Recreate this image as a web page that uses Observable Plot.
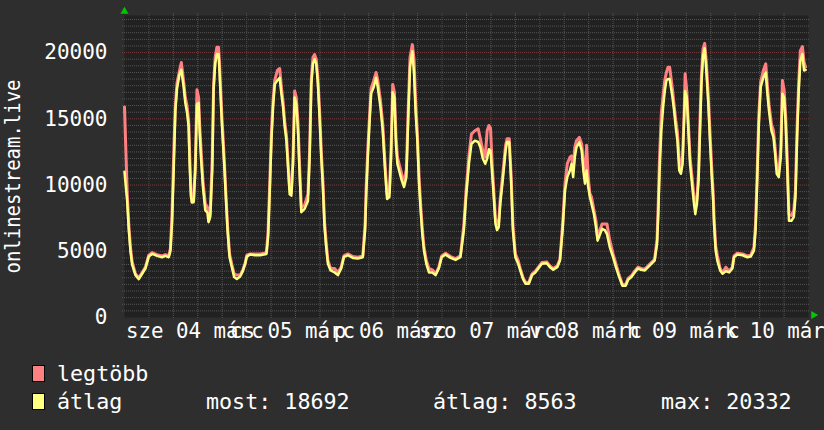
<!DOCTYPE html>
<html><head><meta charset="utf-8">
<script src="https://cdn.jsdelivr.net/npm/d3@7"></script>
<script src="https://cdn.jsdelivr.net/npm/@observablehq/plot@0.6"></script>
<style>
html,body{margin:0;padding:0;background:#2e2e2e;overflow:hidden;}
#wrap{position:relative;width:824px;height:430px;overflow:hidden;}
#wrap svg{position:absolute;left:0;top:0;overflow:visible;}
.lg{position:absolute;font-family:"DejaVu Sans Mono",monospace;font-size:21.7px;line-height:21.7px;color:#fff;white-space:pre;}
.sw{position:absolute;width:11px;height:15px;border:1px solid #000;}
</style></head><body><div id="wrap"></div>
<script>
// ---- data (hours since 3 March 18:00) ----
const hours = [0,0.65,1.06,1.47,1.88,2.69,3.51,4.33,5.14,5.96,6.78,8.0,9.22,10.04,10.86,11.27,11.67,12.08,12.49,12.9,13.55,13.96,14.53,14.94,15.35,15.76,16.0,16.33,16.57,16.98,17.39,17.8,18.2,18.45,18.78,19.27,19.84,20.41,20.65,21.06,21.31,21.55,21.88,22.29,22.69,23.1,23.35,23.92,24.49,24.98,25.31,25.8,26.37,26.94,27.59,28.41,29.06,29.63,30.04,30.86,32.08,33.3,
34.86,35.27,35.68,36.09,36.49,36.9,37.55,38.12,38.53,38.94,39.35,39.76,40.16,40.57,40.98,41.39,41.8,42.2,42.61,43.02,43.43,44.24,45.06,45.47,45.88,46.29,46.69,47.1,47.51,47.92,48.33,48.73,49.14,49.55,49.96,50.62,51.6,52.41,53.23,53.88,54.86,56.08,57.31,58.53,59.1,59.35,59.76,60.16,60.57,61.22,61.8,62.2,62.86,63.43,64.0,64.49,65.06,65.47,65.88,66.29,66.69,
67.03,67.44,68.09,68.66,69.23,69.72,70.13,70.7,71.11,71.52,71.93,72.34,72.74,73.15,73.56,74.13,74.78,75.6,76.4,77.2,77.9,78.86,80.1,81.3,82.5,83.35,83.9,84.6,85.2,86.05,86.87,87.4,88.0,88.6,89.07,89.5,89.9,90.3,90.7,91.1,91.5,91.9,92.3,92.9,93.6,93.97,94.5,94.95,95.4,96.0,96.7,97.2,97.9,98.5,99.3,100.1,100.9,
102.5,103.7,104.5,105.3,106.3,106.95,107.6,108.2,108.75,109.4,109.8,110.2,110.6,111.0,111.7,112.3,112.7,113.1,113.5,113.9,114.3,114.7,115.3,115.8,116.2,116.7,117.3,117.97,118.5,119.2,120.0,120.7,121.5,122.3,123.1,123.7,124.5,125.3,126.1,126.9,127.8,128.6,129.4,130.2,130.8,131.1,131.4,131.85,132.3,132.7,133.1,133.5,133.9,
134.6,135.0,135.4,135.8,136.25,136.66,137.07,137.5,137.7,138.1,138.5,138.9,139.3,139.8,140.2,140.6,141.0,141.4,141.7,142.1,142.5,142.9,143.4,143.8,144.2,144.6,144.8,145.2,145.6,146.3,146.9,147.7,148.5,149.3,149.7,150.5,151.8,153.0,153.8,154.6,155.0,155.4,155.8,156.25,156.9,157.5,157.9,158.3,158.9,159.4,159.8,160.2,160.7,161.2,161.6,162.0,162.4,162.8,163.2,163.8,164.4,164.8,165.2,165.6,166.0,166.5,166.9,167.3];
const maxValues = [15900,9500,7000,5300,4200,3300,3000,3400,3800,4700,4900,4750,4650,4750,4650,5200,7800,12300,16000,17700,18700,19250,17800,16600,16000,14800,12400,9500,8700,8800,11500,17200,16600,14600,12800,10300,8600,8300,7300,7900,10000,12000,17600,19700,20400,20400,19100,15200,12000,8900,6900,4800,4000,3300,3200,3200,3600,4100,4700,4800,4800,4800,
4900,6500,10200,14000,16400,17900,18650,18800,17400,16300,14800,13800,11800,9700,9400,12100,17100,16600,14700,11400,8300,8500,9300,12600,18000,19650,19850,19500,18000,15600,12600,10300,7200,5600,4300,3700,3700,3400,3800,4650,4800,4600,4550,4650,7100,9800,12700,15100,17300,17900,18500,17900,16400,14600,11600,9300,9400,12700,17600,17000,13600,
12100,11600,10800,10100,11200,16000,19650,20600,19500,16200,13900,10700,8500,6700,5300,4300,3700,3600,3300,3800,4650,4850,4600,4450,4650,7000,9600,12200,13850,14100,14250,13500,12600,12100,14100,14500,14300,11600,9600,7500,7100,7100,9000,10800,13000,13500,13500,10800,7000,4800,4300,3700,3000,2650,2650,3300,3500,
4150,4200,3900,3700,3900,4400,7000,10100,11600,12100,12200,11100,12850,13350,13600,13100,11600,10600,13000,10600,9350,9100,8100,7300,6000,6550,7050,7050,7050,5800,4800,4050,3200,2500,2500,2950,3150,3500,3800,3700,3650,3900,4150,4400,5900,8600,12000,15400,16800,17900,18500,18900,18900,
17200,16000,14900,14000,11900,11200,12200,15900,18400,17100,14600,12100,10900,9300,8200,9000,11000,15400,18300,20300,20700,19300,16700,14000,11500,9300,7600,5400,4700,3700,3400,3800,3500,3800,4650,4850,4800,4650,4700,5300,7100,11000,15300,17800,18650,19150,17500,16100,14600,14100,12800,11300,11000,12800,17900,17200,15200,11800,7800,7700,8100,9600,14400,17800,20150,20450,19300,18900];
const avgValues = [11000,8800,6600,5000,4000,3200,2900,3300,3700,4600,4800,4650,4550,4650,4550,5000,7100,11100,15600,17300,18400,18700,17400,16200,15500,14400,11600,9100,8700,8700,11100,16100,16200,14100,12100,9850,8100,7900,7200,7600,9400,11100,17200,19200,19900,19900,18500,14600,11600,8600,6600,4560,3800,3050,2900,3100,3500,4050,4600,4760,4700,4700,
4800,6060,9600,13400,15900,17600,17900,18100,16900,15900,14400,13400,11350,9300,9200,11600,16600,16100,14100,10800,7950,8200,8800,12100,17600,19150,19500,19150,17600,15100,12100,9850,6800,5300,4050,3550,3400,3200,3700,4550,4700,4500,4450,4550,6600,9100,12100,14600,16900,17400,18100,17400,15900,14100,11100,8950,9100,12100,17000,16600,13000,
11600,11100,10350,9850,10600,15400,18900,20100,18400,15400,13350,10100,8080,6300,5060,4050,3400,3400,3200,3700,4550,4750,4500,4350,4550,6600,9100,11600,13100,13350,13250,12850,12000,11600,12000,12700,12600,10850,9100,7100,6600,6800,8600,10350,12600,13250,13250,10350,6600,4550,4050,3550,2900,2550,2550,3200,3400,
4050,4100,3800,3600,3800,4300,6600,9600,10600,11100,11600,10600,12100,12850,13250,12600,11100,10100,11100,9850,9100,8600,7800,6800,5800,6200,6700,6600,6300,5300,4550,3800,3050,2400,2400,2850,3050,3400,3700,3600,3550,3800,4050,4300,5550,7800,10850,14100,15900,17100,17900,18000,18000,
16600,15600,14350,13350,11100,10850,11600,15400,17100,16600,14100,11600,10350,8800,7800,8600,10350,14600,17600,19800,20332,18650,16100,13350,10850,8800,7100,5050,4300,3550,3300,3500,3400,3700,4550,4750,4700,4550,4600,5050,6600,10350,14600,17400,18100,18500,16900,15600,14100,13600,12350,10850,10600,12100,16900,16600,14600,11100,7300,7300,7600,9100,13600,17100,19400,19900,18650,18692];
const dayLabels = ["sze 04 márc","cs 05 márc","p 06 márc","szo 07 márc","v 08 márc","h 09 márc","k 10 márc"];
const yTicks = [0,5000,10000,15000,20000];
const yTitle = "onlinestream.live";
const seriesNames = ["legtöbb","átlag"];
const seriesColors = ["#ff8080","#ffff80"];
const statNames = ["most","átlag","max"];
const statValues = [18692,8563,20332];

// ---- build ----
const t0 = Date.UTC(2026,2,3,18);
const start = new Date(t0), end = new Date(t0 + 168*3600e3);
const rows = hours.map((h,i)=>({t:new Date(t0 + h*3600e3), max:maxValues[i], avg:avgValues[i]}));
const majorX = d3.utcDay.range(d3.utcHour.offset(start,1), end);
const minorX = d3.utcHour.every(6).range(d3.utcHour.offset(start,1), end).filter(d=>d.getUTCHours()!==0);
const noons = majorX.map(d=>d3.utcHour.offset(d,12));
const labelOf = new Map(noons.map((d,i)=>[+d, dayLabels[i]]));
const yTop = 22800;
const minorY = d3.range(500, yTop, 500).filter(v=>v%5000!==0);
const majorY = yTicks.filter(v=>v>0);

const gridMinor = {stroke:"#555555", strokeOpacity:1, strokeDasharray:"1,1"};
const gridMajor = {stroke:"#773a3a", strokeOpacity:1, strokeDasharray:"1,1"};

const chart = Plot.plot({
  width:824, height:345, marginLeft:124, marginRight:16, marginTop:15, marginBottom:28,
  style:{background:"transparent", color:"#fff", fontFamily:"'DejaVu Sans Mono', monospace", fontSize:"21px", overflow:"visible"},
  x:{type:"utc", domain:[start,end]},
  y:{domain:[0,yTop]},
  marks:[
    Plot.frame({fill:"#212121", stroke:null}),
    Plot.gridY(minorY, {...gridMinor, insetLeft:-2, insetRight:-2}),
    Plot.gridX(minorX, {...gridMinor, insetTop:-2, insetBottom:-2}),
    Plot.gridY(majorY, {...gridMajor, insetLeft:-2, insetRight:-2}),
    Plot.gridX(majorX, {...gridMajor, insetTop:-2, insetBottom:-2}),
    Plot.line(rows,{x:"t", y:"max", stroke:seriesColors[0], strokeWidth:3}),
    Plot.line(rows,{x:"t", y:"avg", stroke:seriesColors[1], strokeWidth:2.5}),
    Plot.axisY(yTicks,{tickSize:0, tickPadding:17, label:null, tickFormat:d=>String(d), fontSize:21}),
    Plot.axisX(noons,{tickSize:0, tickPadding:6, label:null, tickFormat:d=>labelOf.get(+d), fontSize:20.8, dx:-3}),
    Plot.text([yTitle],{text:d=>d, frameAnchor:"left", textAnchor:"start", dx:-111, dy:107, rotate:-90, fill:"#fff", fontSize:21}),
    Plot.dot([{t:start, v:yTop}],{x:"t", y:"v", symbol:"triangle", r:3, fill:"#00c800", stroke:null, dy:-4}),
    Plot.dot([{t:end, v:0}],{x:"t", y:"v", symbol:"triangle", r:3, fill:"#00c800", stroke:null, rotate:90, dx:5, dy:-2.5})
  ]
});
const wrap = document.getElementById("wrap");
wrap.appendChild(chart);
chart.querySelectorAll("text").forEach(t=>{
  if (t.textContent === yTitle) { t.setAttribute("textLength","194"); t.setAttribute("lengthAdjust","spacingAndGlyphs"); t.setAttribute("font-size","21"); }
});

// ---- legend ----
function addText(s, left, top){ const e=document.createElement("div"); e.className="lg"; e.textContent=s; e.style.left=left+"px"; e.style.top=top+"px"; wrap.appendChild(e); }
function addSwatch(color, left, top){ const e=document.createElement("div"); e.className="sw"; e.style.background=color; e.style.left=left+"px"; e.style.top=top+"px"; wrap.appendChild(e); }
addSwatch(seriesColors[0], 32, 365);
addText(seriesNames[0], 57, 362.6);
addSwatch(seriesColors[1], 32, 393);
addText(seriesNames[1], 57, 390.6);
const statLeft = [206, 433, 661];
statNames.forEach((n,i)=>addText(`${n}: ${statValues[i]}`, statLeft[i], 390.6));
</script></body></html>
